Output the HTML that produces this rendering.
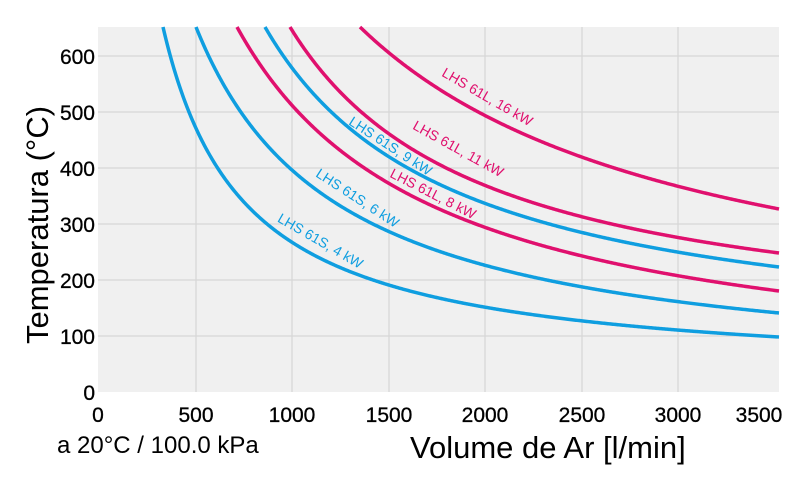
<!DOCTYPE html>
<html><head><meta charset="utf-8"><style>
body{margin:0;background:#fff;}
svg{display:block;font-family:"Liberation Sans",Arial,sans-serif;}
</style></head><body>
<svg id="s" width="800" height="500" viewBox="0 0 800 500">
<rect x="98" y="27" width="681" height="365" fill="#f0f0f0"/>
<g stroke="#d6d6d6" stroke-width="1.2">
<line x1="98" y1="56" x2="779" y2="56"/><line x1="98" y1="112" x2="779" y2="112"/>
<line x1="98" y1="168" x2="779" y2="168"/><line x1="98" y1="224" x2="779" y2="224"/>
<line x1="98" y1="280" x2="779" y2="280"/><line x1="98" y1="336" x2="779" y2="336"/>
<line x1="196" y1="27" x2="196" y2="392"/><line x1="292" y1="27" x2="292" y2="392"/>
<line x1="389" y1="27" x2="389" y2="392"/><line x1="485" y1="27" x2="485" y2="392"/>
<line x1="582" y1="27" x2="582" y2="392"/><line x1="678" y1="27" x2="678" y2="392"/>
</g>
<g id="curves" fill="none" stroke-width="3.5"></g>
<g font-size="21" fill="#000" text-anchor="end" stroke="#000" stroke-width="0.3">
<text x="95" y="64">600</text><text x="95" y="120">500</text><text x="95" y="176">400</text>
<text x="95" y="232">300</text><text x="95" y="288">200</text><text x="95" y="344">100</text><text x="95" y="400">0</text>
</g>
<g font-size="21" fill="#000" text-anchor="middle" stroke="#000" stroke-width="0.3">
<text x="98" y="422">0</text><text x="196" y="422">500</text><text x="292" y="422">1000</text>
<text x="389" y="422">1500</text><text x="485" y="422">2000</text><text x="582" y="422">2500</text>
<text x="678" y="422">3000</text><text x="759" y="422">3500</text>
</g>
<text transform="translate(48,225) rotate(-90)" font-size="31" text-anchor="middle" fill="#000">Temperatura (°C)</text>
<text x="410" y="458" font-size="31" fill="#000">Volume de Ar [l/min]</text>
<text x="57" y="453" font-size="24" fill="#000">a 20°C / 100.0 kPa</text>
<g font-size="14" text-anchor="middle">
<text transform="translate(485,101) rotate(30)" fill="#e0106e">LHS 61L, 16 kW</text>
<text transform="translate(456,153) rotate(29)" fill="#e0106e">LHS 61L, 11 kW</text>
<text transform="translate(388,150) rotate(33)" fill="#0f9ee0">LHS 61S, 9 kW</text>
<text transform="translate(431,198) rotate(27)" fill="#e0106e">LHS 61L, 8 kW</text>
<text transform="translate(355,202) rotate(33)" fill="#0f9ee0">LHS 61S, 6 kW</text>
<text transform="translate(318,245) rotate(30)" fill="#0f9ee0">LHS 61S, 4 kW</text>
</g>
</svg>
<script>
var curves=[
 [[163,365],[484,85],[779,55],'#0f9ee0'],
 [[196,365],[484,127],[779,79],'#0f9ee0'],
 [[237,365],[484,165],[779,101],'#e0106e'],
 [[265,365],[484,189],[779,125],'#0f9ee0'],
 [[290,365],[484,207],[779,139],'#e0106e'],
 [[360,365],[484,277],[779,183],'#e0106e']];
var g=document.getElementById('curves');
curves.forEach(function(c){
 var p1=c[0],p2=c[1],p3=c[2];
 function bOf(cc){return ((p1[1]-cc)*p1[0]-(p2[1]-cc)*p2[0])/(p1[1]-p2[1]);}
 function f(cc){var b=bOf(cc);return (p1[1]-cc)*(p1[0]-b)-(p3[1]-cc)*(p3[0]-b);}
 var best=0,bv=1e18;
 for(var cc=-400;cc<p3[1]-0.5;cc+=0.1){var v=Math.abs(f(cc));if(v<bv){bv=v;best=cc;}}
 var b=bOf(best),a=(p1[1]-best)*(p1[0]-b);
 var d='';
 for(var x=p1[0];x<=779;x+=1){var h=a/(x-b)+best;d+=(d?'L':'M')+x+','+(392-h).toFixed(2);}
 var el=document.createElementNS('http://www.w3.org/2000/svg','path');
 el.setAttribute('d',d);el.setAttribute('stroke',c[3]);g.appendChild(el);
});
</script>
</body></html>
